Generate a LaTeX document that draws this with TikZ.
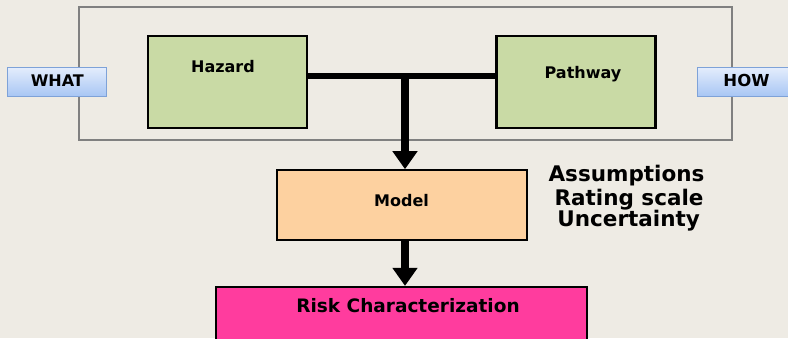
\documentclass[tikz,border=0pt]{standalone}
\usepackage{fontspec}
\setmainfont{DejaVu Sans}
\usetikzlibrary{arrows.meta}

\definecolor{bgc}{HTML}{EEEBE4}
\definecolor{framec}{HTML}{808080}
\definecolor{greenfill}{HTML}{C9DAA5}
\definecolor{modelfill}{HTML}{FDD1A0}
\definecolor{riskfill}{HTML}{FF3C9E}
\definecolor{tagtop}{HTML}{E4EDFC}
\definecolor{tagbot}{HTML}{A8C6F4}
\definecolor{tagedge}{HTML}{7EA2D8}

\begin{document}
\begin{tikzpicture}[x=1pt, y=-1pt,
  box/.style={draw=black, line width=2.4pt, inner sep=0pt},
  tag/.style={draw=tagedge, line width=1pt, top color=tagtop, bottom color=tagbot,
    minimum width=98.7pt, minimum height=28.7pt, inner sep=0pt},
  lbl/.style={font=\fontsize{16}{19}\selectfont\bfseries, inner sep=0pt, anchor=base},
  note/.style={font=\fontsize{21.5}{24}\selectfont\bfseries, inner sep=0pt, anchor=base},
  flow/.style={line width=8pt, -{Triangle[width=24pt,length=18pt]}},
]
% canvas
\fill[bgc] (0,0) rectangle (788,338);
\useasboundingbox (0,0) rectangle (788,338);
\clip (0,0) rectangle (788,338);

% grouping frame around the two inputs
\node[draw=framec, line width=1.2pt, minimum width=653pt, minimum height=133pt, inner sep=0pt]
  (frame) at (405.5,73.5) {};

% side tags
\node[tag] (what) at (57.3,81.7) {};
\node[tag] (how) at (746.7,81.7) {};
\node[lbl] at (57.3,86.7) {WHAT};
\node[lbl, font=\fontsize{16.5}{19}\selectfont\bfseries] at (746.5,86.7) {HOW};

% input boxes
\node[box, fill=greenfill, minimum width=158.7pt, minimum height=92pt] (hz) at (227.4,82.2) {};
\node[box, fill=greenfill, minimum width=159pt, minimum height=92pt] (pw) at (576,82.2) {};
\node[lbl] at (223,72.7) {Hazard};
\node[lbl] at (583,78.5) {Pathway};

% model and result
\node[box, line width=2.2pt, fill=modelfill, minimum width=249.7pt, minimum height=69.4pt] (md) at (401.8,205) {};
\node[lbl] at (401.5,206.7) {Model};
\node[box, line width=2.2pt, fill=riskfill, minimum width=370.7pt, minimum height=59pt] (rk) at (401.4,316.5) {};
\node[lbl, font=\fontsize{18.5}{22}\selectfont\bfseries] at (408,312.7) {Risk Characterization};

% notes beside the model
\node[note] (n1) at (626.5,181.7) {Assumptions};
\node[note] (n2) at (629,205) {Rating scale};
\node[note] (n3) at (628.7,226.7) {Uncertainty};

% connectors
\coordinate (tj) at (405,76);
\draw[line width=6pt] (hz.east |- tj) -- (pw.west |- tj);
\draw[flow] (tj) -- (tj |- md.north);
\draw[flow] (md.south -| tj) -- (rk.north -| tj);
\end{tikzpicture}
\end{document}
